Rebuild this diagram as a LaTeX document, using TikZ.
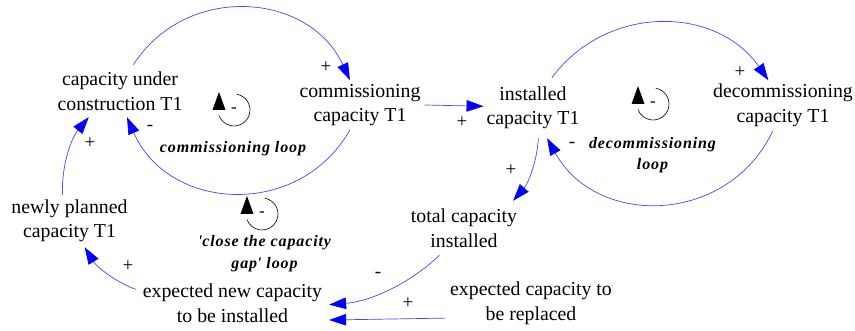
\documentclass[tikz,border=0pt]{standalone}
\usepackage{fontspec}
\setmainfont{Liberation Serif}
\newfontfamily\loopfont[LetterSpace=5.5]{Liberation Serif}
\usetikzlibrary{arrows.meta}
\definecolor{linkblue}{RGB}{70,70,255}
\definecolor{tipblue}{RGB}{0,0,255}
\tikzset{
  var/.style={align=center, inner sep=0pt, font=\fontsize{19.8}{24.5}\selectfont},
  link/.style={draw=linkblue, line width=0.7pt,
    -{Triangle[length=17pt,width=11.5pt,color=tipblue]}},
  sign/.style={inner sep=0pt, font=\fontsize{19}{19}\selectfont},
  looplabel/.style={align=center, inner sep=0pt,
    font=\loopfont\bfseries\itshape\fontsize{16}{21.5}\selectfont},
  loopmark/.pic={
    \draw[line width=0.6pt] (80:16) arc[start angle=80, end angle=-160, radius=16];
    \fill (-21.5,0) -- (-8.5,0) -- (-15,18) -- cycle;
    \node[inner sep=0pt, font=\fontsize{17}{17}\selectfont] (-sign) at (0,0) {-};
  }
}
\begin{document}
\begin{tikzpicture}[x=1pt, y=1pt]
\path[use as bounding box, fill=white] (0,0) rectangle (855,331);

% variables
\node[var, outer sep=7pt] (cuc) at (120,240) {capacity under\\construction T1};
\node[var, outer sep=4pt] (comm) at (360,226) {commissioning\\capacity T1};
\node[var, outer xsep=3pt, outer ysep=9pt] (inst) at (533,223) {installed\\capacity T1};
\node[var, outer sep=4pt] (decomm) at (783,225.5) {decommissioning\\capacity T1};
\node[var, outer sep=5pt] (newly) at (69.5,110) {newly planned\\capacity T1};
\node[var, outer xsep=6pt, outer ysep=8pt] (total) at (464,103) {total capacity\\installed};
\node[var, outer xsep=7pt, outer ysep=2pt] (expnew) at (232.5,28) {expected new capacity\\to be installed};
\node[var, outer xsep=5pt, outer ysep=2pt] (exprep) at (531,28) {expected capacity to\\be replaced};

% causal links
\draw[link] (cuc.63) to[out=57.3, in=114.8, looseness=1.15] (comm.112);
\draw[link] (comm.-112) to[out=-119.6, in=-66.5, looseness=1.18] (cuc.-75);
\draw[link] (comm.east) -- (inst.178);
\draw[link] (inst.58.5) to[out=53.6, in=124.9, looseness=1.08] (decomm.120);
\draw[link] (decomm.-112) to[out=-115, in=-61, looseness=1.17] (inst.-65);
\draw[link] (inst.-80.5) to[bend left=19, looseness=0.88] (total.29.6);
\draw[link] (total.-132) to[bend left=19.5, looseness=0.88] (expnew.-1.2);
\draw[link] (exprep.-170.4) -- (expnew.-10.7);
\draw[link] (expnew.172.8) to[bend left=19, looseness=0.88] (newly.-60.6);
\draw[link] (newly.105) to[bend left=21, looseness=0.88] (cuc.-140);

% polarities
\node[sign] (s1) at (326,264) {+};
\node[sign] (s2) at (150,203) {-};
\node[sign] (s3) at (90,188) {+};
\node[sign] (s4) at (462,209) {+};
\node[sign] (s5) at (740,259) {+};
\node[sign] (s6) at (572,186) {-};
\node[sign] (s7) at (511,161) {+};
\node[sign] (s8) at (378,56) {-};
\node[sign] (s9) at (408,28) {+};
\node[sign] (s10) at (128,65) {+};

% loop markers and names
\pic (loopA) at (234,221) {loopmark};
\pic (loopB) at (653,227) {loopmark};
\pic (loopC) at (262,117) {loopmark};
\node[looplabel, anchor=base] (lblA) at (233,178) {commissioning loop};
\node[looplabel] (lblB) at (652.5,175.8) {decommissioning\\loop};
\node[looplabel] (lblC) at (264.5,77.3) {\textquotesingle close the capacity\\gap\textquotesingle{} loop};
\end{tikzpicture}
\end{document}
